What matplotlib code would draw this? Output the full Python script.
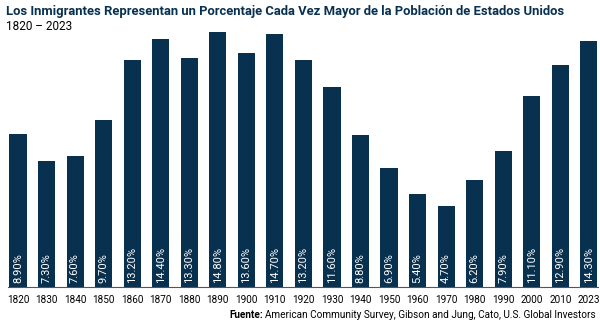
import matplotlib.pyplot as plt
from matplotlib import font_manager

years = ["1820", "1830", "1840", "1850", "1860", "1870", "1880", "1890", "1900", "1910",
         "1920", "1930", "1940", "1950", "1960", "1970", "1980", "1990", "2000", "2010", "2023"]
share = [8.9, 7.3, 7.6, 9.7, 13.2, 14.4, 13.3, 14.8, 13.6, 14.7,
         13.2, 11.6, 8.8, 6.9, 5.4, 4.7, 6.2, 7.9, 11.1, 12.9, 14.3]

plt.rcParams["font.family"] = ["Roboto", "DejaVu Sans"]

navy = "#08304f"

fig = plt.figure(figsize=(6, 3.25), dpi=100)
ax = fig.add_axes([8 / 600, 1 - 287 / 325, 590 / 600, (287 - 28.6) / 325])

x = list(range(len(years)))
ax.bar(x, share, width=0.6, color=navy)
for xi, v in zip(x, share):
    ax.text(xi, 0.22, f"{v:.2f}%", rotation=90, ha="center", va="bottom",
            color="white", fontsize=8)

ax.set_xlim(-0.35, 20.32)
ax.set_ylim(0, 15)
ax.set_xticks(x)
ax.set_xticklabels(years, fontsize=7.2)
ax.tick_params(axis="x", length=0, pad=6)
ax.set_yticks([])
for s in ["top", "right", "left"]:
    ax.spines[s].set_visible(False)
ax.spines["bottom"].set_color("#555555")
ax.spines["bottom"].set_linewidth(0.8)

fig.text(6 / 600, 1 - 12 / 325, "Los Inmigrantes Representan un Porcentaje Cada Vez Mayor de la Población de Estados Unidos",
         fontsize=9.4, fontweight="bold", color=navy, va="center")
fig.text(6 / 600, 1 - 27 / 325, "1820 – 2023", fontsize=8.5, color="black", va="center")

src = fig.text(596 / 600, 1 - 315 / 325,
               "American Community Survey, Gibson and Jung, Cato, U.S. Global Investors",
               fontsize=7.2, ha="right", va="center", color="black")
fig.canvas.draw()
bb = src.get_window_extent()
fig.text(bb.x0 / 600 - 0.004, 1 - 315 / 325, "Fuente:", fontsize=7.2, fontweight="bold",
         ha="right", va="center", color="black")

fig.savefig("out.png", dpi=100)
